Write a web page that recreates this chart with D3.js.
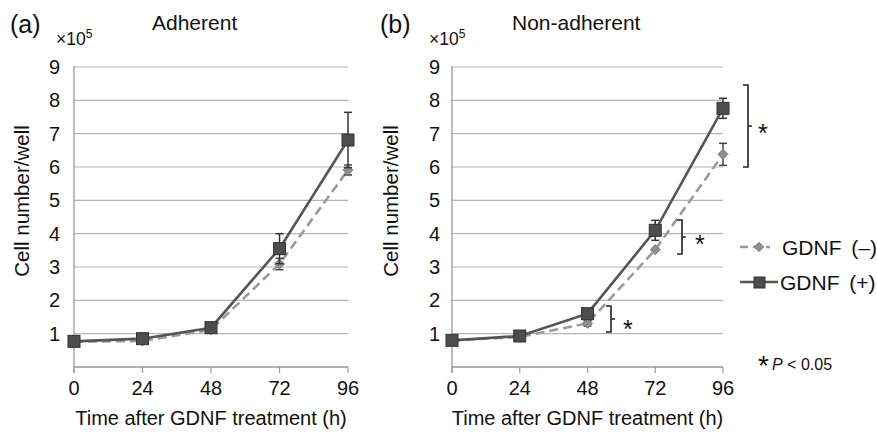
<!DOCTYPE html>
<html><head><meta charset="utf-8">
<script src="https://cdn.jsdelivr.net/npm/d3@7"></script>
<style>body{margin:0;background:#fff}svg{display:block}text{font-family:"Liberation Sans",Arial,sans-serif;fill:#111}</style>
</head><body><svg id="c" width="877" height="432"></svg>
<script>
const times = [0, 24, 48, 72, 96];
const yTicks = [1,2,3,4,5,6,7,8,9];
const adhMinus = [0.76, 0.78, 1.12, 3.09, 5.91];
const adhMinusErr = [0.05, 0.05, 0.08, 0.17, 0.15];
const adhPlus = [0.77, 0.85, 1.18, 3.55, 6.81];
const adhPlusErr = [0.05, 0.05, 0.08, 0.45, 0.83];
const nonMinus = [0.80, 0.90, 1.31, 3.52, 6.38];
const nonMinusErr = [0.04, 0.04, 0.08, 0.06, 0.33];
const nonPlus = [0.80, 0.93, 1.60, 4.10, 7.76];
const nonPlusErr = [0.04, 0.04, 0.15, 0.30, 0.30];
const panels = [
  {label:"(a)", title:"Adherent", minus:adhMinus, minusErr:adhMinusErr, plus:adhPlus, plusErr:adhPlusErr, x0:74, x1:348, lx:10, tx:152, tenx:56, ylx:60, ytx:29},
  {label:"(b)", title:"Non-adherent", minus:nonMinus, minusErr:nonMinusErr, plus:nonPlus, plusErr:nonPlusErr, x0:452, x1:723, lx:380, tx:512, tenx:429, ylx:440, ytx:398}
];
const svg = d3.select("#c");
const y = d3.scaleLinear().domain([0,9]).range([367,67]);
const darkLine = "#555", darkFill = "#4d4d4d", lightLine = "#9a9a9a", lightFill = "#8f8f8f";
const diamond = d3.symbol().type(d3.symbolSquare).size(52);
panels.forEach(p => {
  const x = d3.scaleLinear().domain([0,96]).range([p.x0,p.x1]);
  const g = svg.append("g");
  g.selectAll(".grid").data(yTicks).join("line")
    .attr("x1", p.x0).attr("x2", p.x1).attr("y1", d=>y(d)).attr("y2", d=>y(d))
    .attr("stroke", "#b5b5b5").attr("stroke-width", 1.2);
  g.append("line").attr("x1",p.x0).attr("x2",p.x0).attr("y1",y(9)-1).attr("y2",y(0)+6).attr("stroke","#999").attr("stroke-width",1.3);
  g.append("line").attr("x1",p.x0).attr("x2",p.x1).attr("y1",y(0)).attr("y2",y(0)).attr("stroke","#999").attr("stroke-width",1.3);
  g.selectAll(".xt").data(times).join("line")
    .attr("x1",d=>x(d)).attr("x2",d=>x(d)).attr("y1",y(0)).attr("y2",y(0)+6).attr("stroke","#999").attr("stroke-width",1.2);
  g.selectAll(".xl").data(times).join("text")
    .attr("x",d=>x(d)).attr("y",395).attr("text-anchor","middle").attr("font-size",20).text(d=>d);
  g.selectAll(".yl").data(yTicks).join("text")
    .attr("x",p.ylx).attr("y",d=>y(d)+7).attr("text-anchor","end").attr("font-size",20).text(d=>d);
  g.append("text").attr("transform",`translate(${p.ytx},201) rotate(-90)`).attr("text-anchor","middle").attr("font-size",20.5).text("Cell number/well");
  g.append("text").attr("x",(p.x0+p.x1)/2).attr("y",425).attr("text-anchor","middle").attr("font-size",20).text("Time after GDNF treatment (h)");
  g.append("text").attr("x",p.lx).attr("y",33).attr("font-size",25).text(p.label);
  g.append("text").attr("x",p.tx).attr("y",30).attr("font-size",21).text(p.title);
  const ten = g.append("text").attr("x",p.tenx).attr("y",45).attr("font-size",17.5);
  ten.append("tspan").text("×10");
  ten.append("tspan").attr("dy",-7).attr("font-size",12).text("5");
  const line = d3.line().x((d,i)=>x(times[i])).y(d=>y(d));
  g.append("path").datum(p.minus).attr("d",line).attr("fill","none").attr("stroke",lightLine).attr("stroke-width",2.6).attr("stroke-dasharray","9,5");
  const errs = (vals, errsArr, col) => {
    vals.forEach((v,i)=>{
      const e = errsArr[i]; if (e < 0.07) return;
      const cx = x(times[i]);
      g.append("line").attr("x1",cx).attr("x2",cx).attr("y1",y(v+e)).attr("y2",y(v-e)).attr("stroke",col).attr("stroke-width",1.5);
      [v+e, v-e].forEach(t=>g.append("line").attr("x1",cx-4).attr("x2",cx+4).attr("y1",y(t)).attr("y2",y(t)).attr("stroke",col).attr("stroke-width",1.5));
    });
  };
  errs(p.minus, p.minusErr, "#444");
  g.selectAll(".dm").data(p.minus).join("path")
    .attr("transform",(d,i)=>`translate(${x(times[i])},${y(d)}) rotate(45)`).attr("d",diamond)
    .attr("fill",lightFill).attr("stroke","#7a7a7a").attr("stroke-width",0.8);
  g.append("path").datum(p.plus).attr("d",line).attr("fill","none").attr("stroke",darkLine).attr("stroke-width",2.6);
  errs(p.plus, p.plusErr, "#333");
  g.selectAll(".sq").data(p.plus).join("rect")
    .attr("x",(d,i)=>x(times[i])-6).attr("y",d=>y(d)-6).attr("width",12).attr("height",12)
    .attr("fill",darkFill).attr("stroke","#333").attr("stroke-width",1);
  if (p.label === "(b)") {
    const brk = (yTop, yBot, bx, sx, sy) => {
      g.append("path").attr("d",`M${bx-5},${yTop} H${bx} V${yBot} H${bx-5} M${bx},${(yTop+yBot)/2} H${bx+4}`)
        .attr("fill","none").attr("stroke","#222").attr("stroke-width",1.6);
      g.append("text").attr("x",sx).attr("y",sy).attr("font-size",25).text("*");
    };
    brk(306, 332, 611, 623, 338);
    brk(220, 254, 682, 695, 253);
    brk(85, 167, 748, 758, 142);
  }
});
const lg = svg.append("g");
lg.append("line").attr("x1",740).attr("x2",770).attr("y1",247).attr("y2",247).attr("stroke",lightLine).attr("stroke-width",2.6).attr("stroke-dasharray","8,5");
lg.append("path").attr("transform","translate(759,247) rotate(45)").attr("d",d3.symbol().type(d3.symbolSquare).size(45)).attr("fill",lightFill).attr("stroke","#7a7a7a").attr("stroke-width",0.8);
lg.append("text").attr("x",782).attr("y",255).attr("font-size",21).attr("word-spacing",4).text("GDNF (–)");
lg.append("line").attr("x1",740).attr("x2",778).attr("y1",282).attr("y2",282).attr("stroke",darkLine).attr("stroke-width",2.6);
lg.append("rect").attr("x",754).attr("y",277).attr("width",11).attr("height",11).attr("fill",darkFill).attr("stroke","#333");
lg.append("text").attr("x",780).attr("y",290).attr("font-size",21).attr("word-spacing",4).text("GDNF (+)");
lg.append("text").attr("x",758).attr("y",375).attr("font-size",28).text("*");
const pt = lg.append("text").attr("x",772).attr("y",370).attr("font-size",16);
pt.append("tspan").attr("font-style","italic").text("P");
pt.append("tspan").text(" < 0.05");
</script></body></html>
